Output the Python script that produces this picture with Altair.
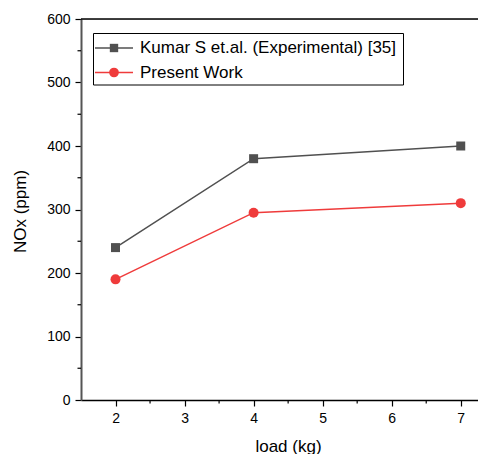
import altair as alt
import pandas as pd

loads = [2, 4, 7]
kumar = [240, 380, 400]
present = [190, 295, 310]
series_names = ["Kumar S et.al. (Experimental) [35]", "Present Work"]
series_colors = ["#505050", "#ef3b3b"]
series_shapes = ["square", "circle"]
series_sizes = [81, 100]
x_ticks = [2, 3, 4, 5, 6, 7]
x_minor = [2.5, 3.5, 4.5, 5.5, 6.5]
y_ticks = [0, 100, 200, 300, 400, 500, 600]
y_minor = [50, 150, 250, 350, 450, 550]

rows = []
for l, v in zip(loads, kumar):
    rows.append({"load": l, "nox": v, "series": series_names[0]})
for l, v in zip(loads, present):
    rows.append({"load": l, "nox": v, "series": series_names[1]})
df = pd.DataFrame(rows)

FONT = "Liberation Sans"
W, H = 397, 381

xscale = alt.Scale(domain=[1.5, 7.25], nice=False, zero=False)
yscale = alt.Scale(domain=[0, 600], nice=False)
cscale = alt.Scale(domain=series_names, range=series_colors)

xaxis = alt.Axis(values=x_ticks, format="d", tickSize=6, tickColor="black", tickWidth=1.2,
                 labelFontSize=14, labelFont=FONT, labelColor="black", labelPadding=5,
                 domainColor="black", domainWidth=1.5, grid=False,
                 title="load (kg)", titleFontSize=17, titleFont=FONT, titleFontWeight="normal",
                 titleColor="black", titleX=207, titleY=46, titleBaseline="middle")
yaxis = alt.Axis(values=y_ticks, format="d", tickSize=6, tickColor="black", tickWidth=1.2,
                 labelFontSize=14, labelFont=FONT, labelColor="black", labelPadding=5,
                 domainColor="#555555", domainWidth=2, grid=False,
                 title="NOx (ppm)", titleFontSize=17, titleFont=FONT, titleFontWeight="normal",
                 titleColor="black", titleX=-61, titleY=192, titleAngle=270,
                 titleAlign="center", titleBaseline="middle")

base = alt.Chart(df)
lines = base.mark_line(strokeWidth=1.5).encode(
    x=alt.X("load:Q", scale=xscale, axis=xaxis),
    y=alt.Y("nox:Q", scale=yscale, axis=yaxis),
    color=alt.Color("series:N", scale=cscale, legend=None),
    detail="series:N",
)
point_layers = []
for name, shp, sz in zip(series_names, series_shapes, series_sizes):
    point_layers.append(
        base.transform_filter(alt.datum.series == name).mark_point(
            filled=True, opacity=1, shape=shp, size=sz).encode(
            x=alt.X("load:Q", scale=xscale),
            y=alt.Y("nox:Q", scale=yscale),
            color=alt.Color("series:N", scale=cscale, legend=None),
        )
    )

top_line = alt.Chart(pd.DataFrame({"v": [600]})).mark_rule(color="black", strokeWidth=1.5).encode(
    y=alt.Y("v:Q", scale=yscale)
)
xminor = alt.Chart(pd.DataFrame({"m": x_minor})).mark_rule(color="black", strokeWidth=1.2).encode(
    x=alt.X("m:Q", scale=xscale), y=alt.value(H), y2=alt.value(H + 3.5)
)
yminor = alt.Chart(pd.DataFrame({"m": y_minor})).mark_rule(color="black", strokeWidth=1.2).encode(
    y=alt.Y("m:Q", scale=yscale), x=alt.value(0), x2=alt.value(-3.5)
)

# legend box drawn as marks
leg_box = alt.Chart(pd.DataFrame({"k": [0]})).mark_rect(
    fill="white", stroke="black", strokeWidth=1).encode(
    x=alt.value(12.5), x2=alt.value(322.5), y=alt.value(14.5), y2=alt.value(66)
)
legend_layers = [leg_box]
leg_shapes_sizes = [70, 95]
for i, (name, col, shp) in enumerate(zip(series_names, series_colors, series_shapes)):
    ry = 29 + 24.5 * i
    one = alt.Chart(pd.DataFrame({"series": [name]}))
    legend_layers.append(one.mark_rule(color=col, strokeWidth=1.5).encode(
        x=alt.value(14), x2=alt.value(52), y=alt.value(ry)))
    legend_layers.append(one.mark_point(filled=True, opacity=1, shape=shp,
                                        size=leg_shapes_sizes[i], color=col).encode(
        x=alt.value(33), y=alt.value(ry)))
    legend_layers.append(one.mark_text(align="left", baseline="middle", font=FONT,
                                       fontSize=17, color="black").encode(
        x=alt.value(59), y=alt.value(ry), text="series:N"))

chart = alt.layer(top_line, xminor, yminor, lines, *point_layers, *legend_layers).properties(
    width=W, height=H,
    autosize=alt.AutoSizeParams(type="none"),
    padding={"left": 73, "top": 11, "right": 0, "bottom": 54},
).configure_view(stroke=None).configure(background="white")

chart.save("out.html", embed_options={"renderer": "svg", "actions": False})
